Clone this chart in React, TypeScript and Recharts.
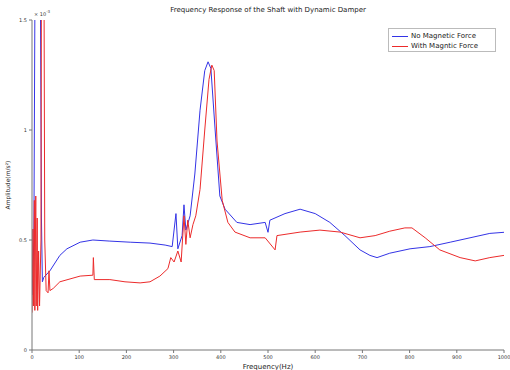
import React from 'react';
import { LineChart, Line, XAxis, YAxis, Label } from 'recharts';

// amplitude values are in units of 1e-3
const blueFreq = [0, 4, 7, 10, 14, 17, 20, 22, 25, 38, 59, 74, 102, 129, 165, 208, 250, 282, 297, 305, 309, 318, 322, 326, 335, 345, 356, 366, 373, 379, 388, 398, 409, 434, 462, 494, 500, 504, 536, 568, 600, 631, 663, 695, 716, 731, 758, 801, 843, 886, 928, 970, 1000];
const blueAmp = [0.25, 0.5, 2.0, 5, 5, 2, 0.6, 0.31, 0.33, 0.36, 0.43, 0.46, 0.49, 0.5, 0.495, 0.49, 0.486, 0.477, 0.47, 0.62, 0.46, 0.52, 0.66, 0.545, 0.61, 0.8, 1.09, 1.27, 1.31, 1.28, 1.0, 0.7, 0.64, 0.58, 0.57, 0.58, 0.535, 0.59, 0.62, 0.64, 0.62, 0.58, 0.52, 0.455, 0.43, 0.42, 0.44, 0.46, 0.47, 0.49, 0.51, 0.53, 0.535];

const redFreq = [0, 2, 3, 5, 6, 8, 9, 11, 12, 14, 16, 19, 21, 23, 25, 27, 30, 34, 36, 38, 45, 59, 102, 129, 130, 132, 165, 197, 229, 250, 271, 288, 294, 301, 309, 316, 322, 326, 330, 335, 341, 347, 356, 366, 375, 381, 386, 392, 403, 415, 430, 462, 494, 515, 519, 568, 610, 653, 695, 727, 758, 790, 805, 833, 864, 907, 939, 970, 1000];
const redAmp = [0.17, 0.55, 0.2, 0.68, 0.18, 0.7, 0.2, 0.6, 0.18, 0.45, 0.2, 0.5, 3, 6, 2, 0.5, 0.27, 0.26, 0.36, 0.27, 0.28, 0.31, 0.336, 0.34, 0.42, 0.32, 0.32, 0.31, 0.305, 0.31, 0.336, 0.37, 0.42, 0.4, 0.45, 0.4, 0.61, 0.48, 0.59, 0.51, 0.57, 0.61, 0.73, 1.0, 1.23, 1.295, 1.27, 0.95, 0.68, 0.58, 0.536, 0.51, 0.51, 0.455, 0.52, 0.536, 0.545, 0.536, 0.51, 0.52, 0.54, 0.555, 0.555, 0.51, 0.455, 0.42, 0.405, 0.42, 0.43];

const xTicks = [0, 100, 200, 300, 400, 500, 600, 700, 800, 900, 1000];
const yTicks = [0, 0.5, 1, 1.5];

const blueData = blueFreq.map((f, i) => ({ f, a: blueAmp[i] }));
const redData = redFreq.map((f, i) => ({ f, a: redAmp[i] }));

const BLUE = '#3434e6';
const RED = '#ec2b2b';
const tickStyle = { fontSize: 5, fill: '#333', fontFamily: 'DejaVu Sans' };

export default function App() {
  return (
    <div style={{ position: 'absolute', left: 0, top: 0, width: 510, height: 370, background: '#fff', fontFamily: 'DejaVu Sans' }}>
      <div style={{ position: 'absolute', left: 32, width: 472, top: 6, textAlign: 'center', fontSize: 7, color: '#222' }}>
        Frequency Response of the Shaft with Dynamic Damper
      </div>
      <div style={{ position: 'absolute', left: 34, top: 9, fontSize: 5, color: '#333' }}>
        × 10<sup style={{ fontSize: 4 }}>-3</sup>
      </div>
      <div style={{ position: 'absolute', left: 388, top: 28, width: 108, height: 24, border: '1px solid #bbb', background: '#fff', fontSize: 7, color: '#222', boxSizing: 'border-box', padding: '2px 3px' }}>
        <div style={{ display: 'flex', alignItems: 'center', height: 10 }}>
          <span style={{ display: 'inline-block', width: 16, height: 1, background: BLUE, marginRight: 3 }} />No Magnetic Force
        </div>
        <div style={{ display: 'flex', alignItems: 'center', height: 10 }}>
          <span style={{ display: 'inline-block', width: 16, height: 1, background: RED, marginRight: 3 }} />With Magntic Force
        </div>
      </div>
      <LineChart width={510} height={370} margin={{ top: 20, right: 6, bottom: 8, left: 10 }}>
        <XAxis
          xAxisId="b"
          dataKey="f"
          type="number"
          domain={[0, 1000]}
          ticks={xTicks}
          allowDataOverflow
          tick={tickStyle}
          tickSize={3}
          height={12}
          stroke="#777"
        >
          <Label value="Frequency(Hz)" position="insideBottom" offset={-7} style={{ fontSize: 7, fill: '#222' }} />
        </XAxis>
        <XAxis xAxisId="t" orientation="top" dataKey="f" type="number" domain={[0, 1000]} ticks={xTicks} tick={false} tickSize={2} height={0} stroke="#777" />
        <YAxis
          yAxisId="l"
          type="number"
          domain={[0, 1.5]}
          ticks={yTicks}
          allowDataOverflow
          tick={tickStyle}
          tickSize={3}
          width={22}
          stroke="#777"
        >
          <Label value="Amplitude(m/s²)" angle={-90} position="insideLeft" offset={-2} style={{ fontSize: 6, fill: '#222', textAnchor: 'middle' }} />
        </YAxis>
        <YAxis yAxisId="r" orientation="right" type="number" domain={[0, 1.5]} ticks={yTicks} tick={false} tickSize={2} width={0} stroke="#777" />
        <Line xAxisId="b" yAxisId="l" data={blueData} dataKey="a" stroke={BLUE} strokeWidth={1} dot={false} isAnimationActive={false} type="linear" />
        <Line xAxisId="b" yAxisId="l" data={redData} dataKey="a" stroke={RED} strokeWidth={1} dot={false} isAnimationActive={false} type="linear" />
      </LineChart>
    </div>
  );
}
